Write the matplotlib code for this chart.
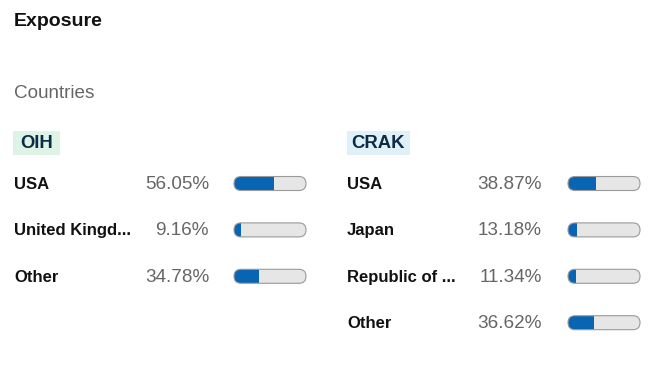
import matplotlib
matplotlib.use("Agg")
import matplotlib.pyplot as plt
from matplotlib.patches import FancyBboxPatch, Rectangle

# ---- data ----
title = "Exposure"
subtitle = "Countries"
fund_names = ["OIH", "CRAK"]
oih_countries = ["USA", "United Kingd...", "Other"]
oih_values = [56.05, 9.16, 34.78]
crak_countries = ["USA", "Japan", "Republic of ...", "Other"]
crak_values = [38.87, 13.18, 11.34, 36.62]

W, H = 667, 365
fig = plt.figure(figsize=(W / 100, H / 100), dpi=100)
ax = fig.add_axes([0, 0, 1, 1])
ax.set_xlim(0, W)
ax.set_ylim(H, 0)
ax.axis("off")

FONT = ["Liberation Sans", "DejaVu Sans"]
BLUE = "#0a64b4"
TRACK = "#e6e6e6"
EDGE = "#9a9a9a"

ax.text(14, 21.5, title, fontsize=14, fontweight="bold", family=FONT,
        color="#111111", va="center", ha="left")
ax.text(14, 94, subtitle, fontsize=13.6, family=FONT, color="#666666",
        va="center", ha="left")

badge_colors = ["#dcf3e6", "#dff0f9"]
columns = [(oih_countries, oih_values), (crak_countries, crak_values)]
col_x = [14, 347]
pct_x = [209, 542]
bar_x = [234, 568]
bar_w = 72
bar_h = 14
row_y0 = 183.5
row_dy = 46.4
badge_x = [13, 347]
badge_w = [47, 63]
text_dy = 1.0

for ci, (names, vals) in enumerate(columns):
    x0 = col_x[ci]
    # badge
    ax.add_patch(Rectangle((badge_x[ci], 131), badge_w[ci], 24,
                           facecolor=badge_colors[ci], edgecolor="none", zorder=0))
    ax.text(badge_x[ci] + badge_w[ci] / 2, 144, fund_names[ci], fontsize=13.3,
            fontweight="bold", family=FONT, color="#0d2b45",
            va="center", ha="center")
    for ri, (n, v) in enumerate(zip(names, vals)):
        y = row_y0 + ri * row_dy
        ax.text(x0, y + text_dy, n, fontsize=12, fontweight="bold", family=FONT,
                color="#111111", va="center", ha="left")
        ax.text(pct_x[ci], y + text_dy, f"{v:.2f}%", fontsize=13.6, family=FONT,
                color="#666666", va="center", ha="right")
        bx = bar_x[ci]
        track = FancyBboxPatch((bx, y - bar_h / 2), bar_w, bar_h,
                               boxstyle=f"round,pad=0,rounding_size={bar_h/2}",
                               facecolor=TRACK, edgecolor="none", zorder=2)
        ax.add_patch(track)
        fill = Rectangle((bx, y - bar_h / 2), bar_w * v / 100.0, bar_h,
                         facecolor=BLUE, edgecolor="none", zorder=3)
        ax.add_patch(fill)
        fill.set_clip_path(track)
        border = FancyBboxPatch((bx, y - bar_h / 2), bar_w, bar_h,
                                boxstyle=f"round,pad=0,rounding_size={bar_h/2}",
                                facecolor="none", edgecolor=EDGE, linewidth=0.8,
                                zorder=4)
        ax.add_patch(border)

fig.savefig("out.png", dpi=100, facecolor="white")
